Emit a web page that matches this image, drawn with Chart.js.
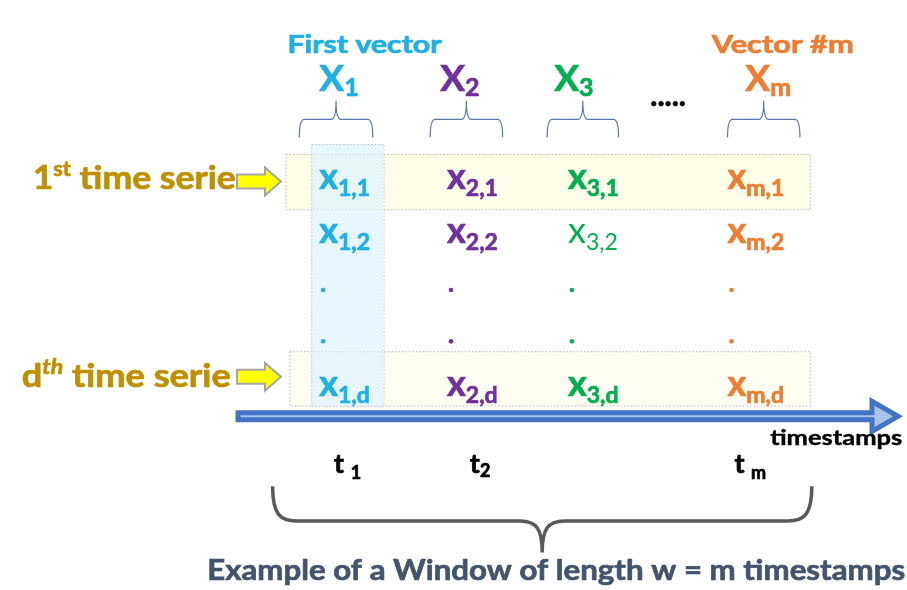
<!DOCTYPE html>
<html>
<head>
<meta charset="utf-8">
<script src="https://cdn.jsdelivr.net/npm/chart.js@4"></script>
<style>
  body { margin: 0; background: #ffffff; }
  canvas { display: block; }
</style>
</head>
<body>
<canvas id="c" width="907" height="590"></canvas>
<script>
// donnees du schema
const vectorIds = ["1", "2", "3", "m"];
const seriesIds = ["1", "2", ".", ".", "d"];
const timeIds = ["1", "2", null, "m"];
const headerNotes = ["First vector", null, null, "Vector #m"];
const seriesLabels = [["1", "st"], ["d", "th"]];
const regularCells = [[2, 1]]; // x3,2 est en maigre
const axisLabel = "timestamps";
const caption = "Example of a Window of length w = m timestamps";

// mise en page (pixels du canvas)
const cellX = [318, 447, 569, 730];
const rowY = [188, 242, 290, 342, 397];
const headerX = [338, 460, 575, 771];
const braceSpan = [[298, 372], [430, 503], [548, 620], [730, 803]];
const timeX = [333, 470, null, 737];

const colColors = ["#1eb0e6", "#7030a0", "#00b050", "#ed7d31"];
const gold = "#bf9000";
const FAM = "Lato, 'Open Sans', sans-serif";

function fontOf(r) {
  return (r.italic ? "italic " : "") + (r.weight || 700) + " " + r.size + "px " + FAM;
}

// texte avec indices / exposants
function drawRuns(ctx, runs, x, y, opts) {
  opts = opts || {};
  const widths = runs.map(function (r) {
    ctx.font = fontOf(r);
    return ctx.measureText(r.t).width;
  });
  const total = widths.reduce(function (a, b) { return a + b; }, 0);
  const sx = opts.width ? opts.width / total : 1;
  let start = x;
  if (opts.align === "center") start = x - (total * sx) / 2;
  ctx.save();
  ctx.translate(start, y);
  ctx.scale(sx, 1);
  ctx.textBaseline = "alphabetic";
  ctx.textAlign = "left";
  ctx.lineJoin = "round";
  let cx = 0;
  runs.forEach(function (r, i) {
    ctx.font = fontOf(r);
    const col = r.color || opts.color || "#000";
    ctx.fillStyle = col;
    ctx.fillText(r.t, cx, r.dy || 0);
    if ((r.weight || 700) >= 700) {
      // un peu plus gras, comme le Calibri gras
      ctx.strokeStyle = col;
      ctx.lineWidth = opts.thick || 0.7;
      ctx.strokeText(r.t, cx, r.dy || 0);
    }
    cx += widths[i];
  });
  ctx.restore();
}

function dottedRect(ctx, x0, y0, x1, y1, fill) {
  ctx.save();
  ctx.fillStyle = fill;
  ctx.fillRect(x0, y0, x1 - x0, y1 - y0);
  ctx.setLineDash([1.5, 2]);
  ctx.strokeStyle = "#b8b8b8";
  ctx.lineWidth = 1;
  ctx.strokeRect(x0 + 0.5, y0 + 0.5, x1 - x0, y1 - y0);
  ctx.restore();
}

function braceUp(ctx, x0, x1, yTip, yMid, yEnd, r) {
  const xc = (x0 + x1) / 2;
  ctx.beginPath();
  ctx.moveTo(x0, yEnd);
  ctx.quadraticCurveTo(x0, yMid, x0 + r, yMid);
  ctx.lineTo(xc - r, yMid);
  ctx.quadraticCurveTo(xc, yMid, xc, yTip);
  ctx.moveTo(x1, yEnd);
  ctx.quadraticCurveTo(x1, yMid, x1 - r, yMid);
  ctx.lineTo(xc + r, yMid);
  ctx.quadraticCurveTo(xc, yMid, xc, yTip);
  ctx.stroke();
}

function braceDown(ctx, x0, x1, xc, yEnd, yMid, yTip, r, rc) {
  ctx.beginPath();
  ctx.moveTo(x0, yEnd);
  ctx.bezierCurveTo(x0, yMid - 6, x0 + 8, yMid, x0 + r, yMid);
  ctx.lineTo(xc - rc, yMid);
  ctx.bezierCurveTo(xc - 6, yMid, xc, yMid + 8, xc, yTip);
  ctx.moveTo(x1, yEnd);
  ctx.bezierCurveTo(x1, yMid - 6, x1 - 8, yMid, x1 - r, yMid);
  ctx.lineTo(xc + rc, yMid);
  ctx.bezierCurveTo(xc + 6, yMid, xc, yMid + 8, xc, yTip);
  ctx.stroke();
}

function polygon(ctx, pts, fill, stroke, lw) {
  ctx.beginPath();
  pts.forEach(function (p, i) { i ? ctx.lineTo(p[0], p[1]) : ctx.moveTo(p[0], p[1]); });
  ctx.closePath();
  ctx.fillStyle = fill;
  ctx.fill();
  ctx.lineJoin = "miter";
  ctx.lineWidth = lw;
  ctx.strokeStyle = stroke;
  ctx.stroke();
}

// points des cellules et des pointilles
const cellPoints = [];
const dotSets = vectorIds.map(function () { return []; });
vectorIds.forEach(function (v, c) {
  seriesIds.forEach(function (s, r) {
    if (s === ".") dotSets[c].push({ x: cellX[c] + 4, y: rowY[r] });
    else cellPoints.push({ x: cellX[c], y: rowY[r], c: c, r: r });
  });
});

const diagramPlugin = {
  id: "diagram",
  beforeDatasetsDraw(chart) {
    const ctx = chart.ctx;
    const X = chart.scales.x, Y = chart.scales.y;
    const px = function (v) { return X.getPixelForValue(v); };
    const py = function (v) { return Y.getPixelForValue(v); };

    // bandes des series et du premier vecteur
    dottedRect(ctx, px(284), py(152), px(813), py(208), "#fefee9");
    dottedRect(ctx, px(288), py(352), px(813), py(407), "#fefef2");
    ctx.save();
    ctx.globalAlpha = 0.75;
    dottedRect(ctx, px(310), py(142), px(383), py(408), "#dff2fb");
    ctx.restore();

    // fleches jaunes
    [180, 378].forEach(function (yy) {
      const y0 = py(yy);
      polygon(ctx, [[237, y0 - 7], [265, y0 - 7], [265, y0 - 14], [281, y0], [265, y0 + 14], [265, y0 + 7], [237, y0 + 7]],
        "#ffff00", "#a6a6a6", 2);
    });

    // fleche du temps
    const ya = py(418);
    polygon(ctx, [[238, ya - 3.5], [872, ya - 3.5], [872, ya - 15], [898, ya], [872, ya + 15], [872, ya + 3.5], [238, ya + 3.5]],
      "#aac3ea", "#4472c4", 5);

    // accolades du haut
    ctx.save();
    ctx.strokeStyle = "#5a78a8";
    ctx.lineWidth = 1.2;
    braceSpan.forEach(function (s) {
      braceUp(ctx, px(s[0]), px(s[1]), py(98), py(117), py(135), 5);
    });
    ctx.restore();

    // grande accolade
    ctx.save();
    ctx.strokeStyle = "#595959";
    ctx.lineWidth = 3.5;
    braceDown(ctx, px(271), px(815), px(543), py(489), py(524), py(556), 24, 22);
    ctx.restore();
  },
  afterDatasetsDraw(chart) {
    const ctx = chart.ctx;
    const X = chart.scales.x, Y = chart.scales.y;
    const px = function (v) { return X.getPixelForValue(v); };
    const py = function (v) { return Y.getPixelForValue(v); };

    // titres des vecteurs
    headerNotes.forEach(function (n, c) {
      if (!n) return;
      const w = c === 0 ? 154 : 142;
      const x0 = c === 0 ? 286 : 714;
      drawRuns(ctx, [{ t: n, size: 25 }], px(x0), py(50), { color: colColors[c], width: w });
    });
    vectorIds.forEach(function (v, c) {
      drawRuns(ctx, [{ t: "X", size: 37 }, { t: v, size: 25, dy: 5 }], px(headerX[c]), py(88),
        { color: colColors[c], align: "center" });
    });
    drawRuns(ctx, [{ t: ".....", size: 30 }], px(670), py(103), { color: "#000", align: "center" });

    // cellules
    const meta = chart.getDatasetMeta(0);
    meta.data.forEach(function (el, i) {
      const p = cellPoints[i];
      const reg = regularCells.some(function (rc) { return rc[0] === p.c && rc[1] === p.r; });
      const w = reg ? 400 : 700;
      drawRuns(ctx, [
        { t: "x", size: 36, weight: w },
        { t: vectorIds[p.c] + "," + seriesIds[p.r], size: 23, dy: 7, weight: w }
      ], el.x, el.y, { color: colColors[p.c] });
    });

    // libelles des series
    drawRuns(ctx, [
      { t: seriesLabels[0][0], size: 33 },
      { t: seriesLabels[0][1], size: 20, dy: -13 },
      { t: " time serie", size: 33 }
    ], px(29), py(188), { color: gold, width: 203 });
    drawRuns(ctx, [
      { t: seriesLabels[1][0], size: 33 },
      { t: seriesLabels[1][1], size: 21, dy: -13, italic: true },
      { t: " time serie", size: 33 }
    ], px(18), py(388), { color: gold, width: 209 });

    // axe du temps
    drawRuns(ctx, [{ t: axisLabel, size: 21 }], px(773), py(447), { color: "#000", width: 132, thick: 0.4 });
    timeIds.forEach(function (t, c) {
      if (t === null) return;
      const runs = c === 1
        ? [{ t: "t", size: 27 }, { t: t, size: 18, dy: 4 }]
        : [{ t: "t ", size: 27 }, { t: t, size: 18, dy: 6 }];
      drawRuns(ctx, runs, px(timeX[c]), py(475), { color: "#000" });
    });

    // legende du bas
    drawRuns(ctx, [{ t: caption, size: 29 }], px(205), py(584), { color: "#44546a", width: 698 });
  }
};

const datasets = [{
  label: "cells",
  data: cellPoints.map(function (p) { return { x: p.x, y: p.y }; }),
  pointRadius: 0
}];
dotSets.forEach(function (pts, c) {
  datasets.push({
    label: "dots " + vectorIds[c],
    data: pts,
    pointRadius: 2.3,
    pointBorderWidth: 0,
    backgroundColor: colColors[c],
    borderColor: colColors[c]
  });
});

new Chart(document.getElementById("c"), {
  type: "scatter",
  data: { datasets: datasets },
  options: {
    responsive: false,
    devicePixelRatio: 1,
    animation: false,
    events: [],
    layout: { padding: 0 },
    plugins: { legend: { display: false }, tooltip: { enabled: false } },
    scales: {
      x: { type: "linear", min: 0, max: 907, display: false },
      y: { type: "linear", min: 0, max: 590, reverse: true, display: false }
    }
  },
  plugins: [diagramPlugin]
});
</script>
</body>
</html>
